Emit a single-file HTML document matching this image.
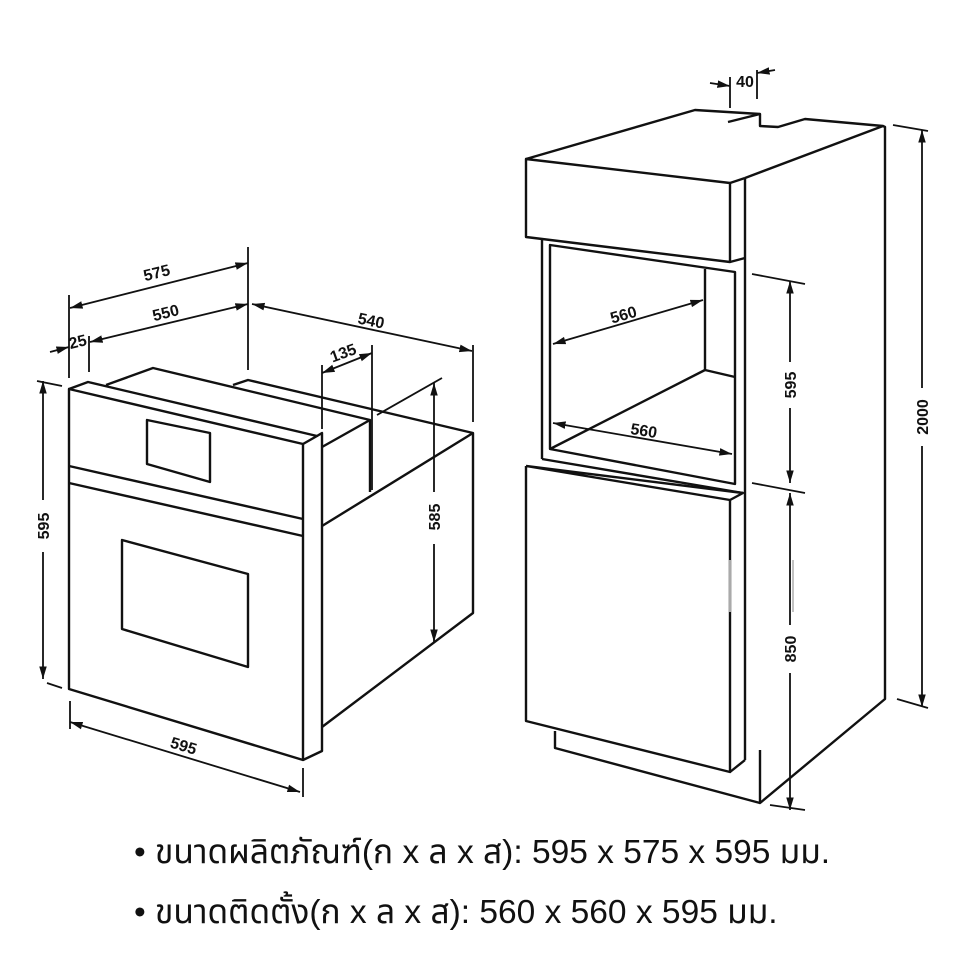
<!DOCTYPE html>
<html><head><meta charset="utf-8"><style>
body{margin:0;background:#fff;width:960px;height:960px;overflow:hidden}
svg{position:absolute;left:0;top:0}
.t{font-family:"Liberation Sans",sans-serif;font-size:16px;font-weight:bold;fill:#111}
.th{position:absolute;left:134px;font-family:"Liberation Sans","Noto Sans Thai","DejaVu Sans",sans-serif;font-size:33.5px;color:#111;white-space:nowrap;line-height:40px}
</style></head><body>
<svg width="960" height="960" viewBox="0 0 960 960">
<defs>
<marker id="a" viewBox="0 0 10 10" refX="10" refY="5" markerWidth="7" markerHeight="7" orient="auto-start-reverse"><path d="M0,2 L10,5 L0,8z" fill="#111"/></marker>
</defs>
<g fill="none" stroke="#111" stroke-width="2.4" stroke-linejoin="round">
<polygon points="69,389 303,444 303,760 69,689"/>
<polyline points="69,389 88,382 317,436 303,444"/>
<polyline points="317,436 322,433 322,751 303,760"/>
<line x1="69" y1="466" x2="303" y2="519"/>
<line x1="69" y1="483" x2="303" y2="536"/>
<polygon points="147,420 210,433 210,482 147,464"/>
<polygon points="122,540 248,574 248,667 122,629"/>
<polyline points="106,385 153,368 370,420 322,447"/>
<line x1="370" y1="420" x2="370" y2="492"/>
<polyline points="233,385 248,380 473,433 473,613 322,727"/>
<line x1="473" y1="433" x2="322" y2="526"/>
</g>
<g fill="none" stroke="#111" stroke-width="1.8">
<line x1="70" y1="308" x2="248" y2="263" marker-start="url(#a)" marker-end="url(#a)"/>
<line x1="90" y1="342" x2="248" y2="304" marker-start="url(#a)" marker-end="url(#a)"/>
<line x1="50" y1="352" x2="69" y2="347" marker-end="url(#a)"/>
<line x1="252" y1="304" x2="472" y2="351" marker-start="url(#a)" marker-end="url(#a)"/>
<line x1="69" y1="295" x2="69" y2="378"/><line x1="89" y1="336" x2="89" y2="372"/>
<line x1="248" y1="247" x2="248" y2="370"/><line x1="473" y1="345" x2="473" y2="422"/>
<line x1="322" y1="373" x2="372" y2="353" marker-start="url(#a)" marker-end="url(#a)"/>
<line x1="322" y1="365" x2="322" y2="429"/><line x1="372" y1="345" x2="372" y2="490"/>
<line x1="434" y1="383" x2="434" y2="642" marker-start="url(#a)" marker-end="url(#a)"/>
<line x1="377" y1="415" x2="442" y2="378"/>
<line x1="43" y1="381" x2="43" y2="679" marker-start="url(#a)" marker-end="url(#a)"/>
<line x1="37" y1="381" x2="62" y2="386"/><line x1="47" y1="683" x2="62" y2="688"/>
<line x1="70" y1="722" x2="300" y2="792" marker-start="url(#a)" marker-end="url(#a)"/>
<line x1="70" y1="701" x2="70" y2="729"/><line x1="303" y1="768" x2="303" y2="797"/>
</g>
<g fill="#fff" stroke="none"><rect x="425" y="492" width="18" height="52"/><rect x="34" y="500" width="18" height="52"/></g>
<text class="t" transform="translate(158,278) rotate(-14)" text-anchor="middle">575</text>
<text class="t" transform="translate(167,318) rotate(-14)" text-anchor="middle">550</text>
<text class="t" transform="translate(79,347) rotate(-14)" text-anchor="middle">25</text>
<text class="t" transform="translate(370,326) rotate(12)" text-anchor="middle">540</text>
<text class="t" transform="translate(345,358) rotate(-20)" text-anchor="middle">135</text>
<text class="t" transform="translate(440,517) rotate(-90)" text-anchor="middle">585</text>
<text class="t" transform="translate(49,526) rotate(-90)" text-anchor="middle">595</text>
<text class="t" transform="translate(182,751) rotate(17)" text-anchor="middle">595</text>

<g fill="none" stroke="#111" stroke-width="2.4" stroke-linejoin="round">
<polyline points="526,159 695,110 760,114 760,126 778,127 805,119 883,126 885,127 885,699 760,803 760,750"/>
<line x1="728" y1="122" x2="760" y2="114"/>
<polygon points="526,159 730,183 730,262 526,237"/>
<line x1="730" y1="183" x2="745" y2="178"/>
<line x1="745" y1="178" x2="883" y2="126"/>
<line x1="745" y1="178" x2="745" y2="760"/>
<line x1="730" y1="262" x2="745" y2="258"/>
<line x1="542" y1="240" x2="542" y2="459"/>
<polygon points="550,245 735,272 735,484 550,449"/>
<polyline points="705,269 705,370 735,377"/>
<line x1="550" y1="449" x2="705" y2="370"/>
<line x1="542" y1="459" x2="743" y2="493"/>
<polyline points="526,466 743,493 730,500 526,466"/>
<polyline points="526,466 526,721 730,772 730,500"/>
<polyline points="555,731 555,748 760,803"/>
<line x1="730" y1="772" x2="745" y2="760"/>
</g>
<g fill="none" stroke="#111" stroke-width="1.8">
<line x1="730" y1="77" x2="730" y2="108"/><line x1="757" y1="70" x2="757" y2="99"/>
<line x1="710" y1="83" x2="730" y2="86" marker-end="url(#a)"/>
<line x1="775" y1="70" x2="757" y2="73" marker-end="url(#a)"/>
<line x1="553" y1="344" x2="703" y2="300" marker-start="url(#a)" marker-end="url(#a)"/>
<line x1="553" y1="423" x2="732" y2="454" marker-start="url(#a)" marker-end="url(#a)"/>
<line x1="790" y1="281" x2="790" y2="483" marker-start="url(#a)" marker-end="url(#a)"/>
<line x1="752" y1="274" x2="805" y2="284"/><line x1="752" y1="483" x2="805" y2="493"/>
<line x1="790" y1="493" x2="790" y2="810" marker-start="url(#a)" marker-end="url(#a)"/>
<line x1="770" y1="805" x2="805" y2="810"/>
<line x1="922" y1="130" x2="922" y2="707" marker-start="url(#a)" marker-end="url(#a)"/>
<line x1="893" y1="125" x2="928" y2="131"/><line x1="897" y1="699" x2="928" y2="708"/>
<line x1="730" y1="560" x2="730" y2="612" stroke="#bbb"/><line x1="793" y1="560" x2="793" y2="612" stroke="#bbb"/>
</g>
<g fill="#fff" stroke="none"><rect x="781" y="362" width="18" height="46"/><rect x="781" y="625" width="18" height="48"/><rect x="913" y="388" width="18" height="58"/></g>
<text class="t" x="745" y="87" text-anchor="middle" font-size="15">40</text>
<text class="t" transform="translate(625,320) rotate(-16)" text-anchor="middle">560</text>
<text class="t" transform="translate(643,436) rotate(9)" text-anchor="middle">560</text>
<text class="t" transform="translate(796,385) rotate(-90)" text-anchor="middle">595</text>
<text class="t" transform="translate(796,649) rotate(-90)" text-anchor="middle">850</text>
<text class="t" transform="translate(928,417) rotate(-90)" text-anchor="middle">2000</text>
</svg>
<div class="th" style="top:833px">• ขนาดผลิตภัณฑ์(ก x ล x ส): 595 x 575 x 595 มม.</div>
<div class="th" style="top:893px">• ขนาดติดตั้ง(ก x ล x ส): 560 x 560 x 595 มม.</div>
</body></html>
